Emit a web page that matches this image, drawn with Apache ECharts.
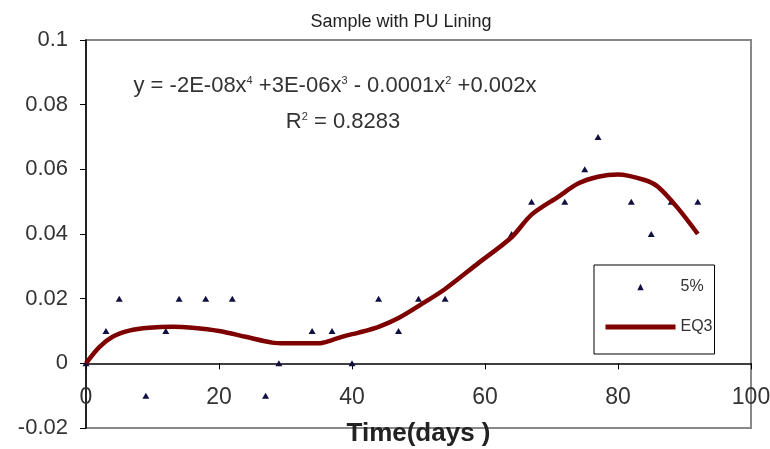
<!DOCTYPE html>
<html>
<head>
<meta charset="utf-8">
<script src="https://cdn.jsdelivr.net/npm/echarts@6/dist/echarts.min.js"></script>
<style>html,body{margin:0;padding:0;background:#fff}#c{width:770px;height:449px}</style>
</head>
<body>
<div id="c"></div>
<script>
// Measured points (5%)
const pointDays   = [0, 3, 5, 9, 12, 14, 18, 22, 27, 29, 34, 37, 40, 44, 47, 50, 54, 64, 67, 72, 75, 77, 82, 85, 88, 92];
const pointValues = [0, 0.01, 0.02, -0.01, 0.01, 0.02, 0.02, 0.02, -0.01, 0, 0.01, 0.01, 0, 0.02, 0.01, 0.02, 0.02, 0.04, 0.05, 0.05, 0.06, 0.07, 0.05, 0.04, 0.05, 0.05];
// Trend curve (EQ3)
const trendDays   = [0, 2, 4, 6.5, 9.5, 13, 16, 20, 24, 28, 30, 35, 37, 39, 41, 44, 47, 51, 54, 59, 64, 67, 71, 74, 77, 80, 84, 86, 89, 92];
const trendValues = [0, 0.005, 0.0082, 0.0101, 0.011, 0.0113, 0.011, 0.0100, 0.0082, 0.0064, 0.0062, 0.0062, 0.0072, 0.0085, 0.0095, 0.0113, 0.014, 0.019, 0.023, 0.031, 0.039, 0.046, 0.0515, 0.0556, 0.0577, 0.0584, 0.0567, 0.0546, 0.048, 0.040];
const seriesNames = ['5%', 'EQ3'];
const chartTitle = 'Sample with PU Lining';
const xAxisName = 'Time(days )';

const FONT = "'Liberation Sans', Arial, sans-serif";
const chart = echarts.init(document.getElementById('c'));
chart.setOption({
  animation: false,
  backgroundColor: '#fff',
  grid: { left: 86, right: 19, top: 40, bottom: 21, show: true, borderColor: '#888', borderWidth: 2, containLabel: false, outerBoundsMode: 'none' },
  xAxis: {
    type: 'value', min: 0, max: 100, interval: 20,
    name: xAxisName, nameLocation: 'middle', nameGap: -7,
    nameTextStyle: { fontFamily: FONT, fontSize: 26, fontWeight: 'bold', color: '#222' },
    axisLine: { onZero: true, lineStyle: { color: '#000', width: 1.5 } },
    axisTick: { show: true, inside: false, length: 6, lineStyle: { color: '#000' } },
    axisLabel: { fontFamily: FONT, fontSize: 23, color: '#333', inside: true, margin: 19 },
    splitLine: { show: false }
  },
  yAxis: {
    type: 'value', min: -0.02, max: 0.1, interval: 0.02,
    axisLine: { show: true, lineStyle: { color: '#000', width: 1.5 } },
    axisTick: { show: true, inside: false, length: 6, lineStyle: { color: '#000' } },
    axisLabel: { fontFamily: FONT, fontSize: 22, color: '#333', margin: 18 },
    splitLine: { show: false }
  },
  legend: {
    orient: 'vertical', left: 594, top: 265,
    padding: [13, 2, 18, 9], itemGap: 22,
    itemWidth: 70, itemHeight: 8,
    borderColor: '#000', borderWidth: 1, backgroundColor: '#fff',
    textStyle: { fontFamily: FONT, fontSize: 16, color: '#333', lineHeight: 18 },
    data: [
      { name: seriesNames[0] },
      { name: seriesNames[1], itemStyle: { opacity: 0 }, lineStyle: { width: 5, color: '#7f0000' } }
    ]
  },
  graphic: [
    { type: 'text', x: 401, y: 22, style: { text: chartTitle, font: "18px 'Liberation Sans', Arial", fill: '#222', align: 'center', verticalAlign: 'middle' } },
    { type: 'text', x: 335, y: 86, style: {
        text: '{m|y = -2E-08x}{s|4}{m| +3E-06x}{s|3}{m| - 0.0001x}{s|2}{m| +0.002x}',
        align: 'center', verticalAlign: 'middle',
        rich: {
          m: { fontFamily: FONT, fontSize: 22, fill: '#333' },
          s: { fontFamily: FONT, fontSize: 11, fill: '#333', padding: [0, 0, 10, 0] }
        } } },
    { type: 'text', x: 343, y: 122, style: {
        text: '{m|R}{s|2}{m| = 0.8283}',
        align: 'center', verticalAlign: 'middle',
        rich: {
          m: { fontFamily: FONT, fontSize: 22, fill: '#333' },
          s: { fontFamily: FONT, fontSize: 11, fill: '#333', padding: [0, 0, 10, 0] }
        } } }
  ],
  series: [
    {
      name: seriesNames[0], type: 'line',
      data: pointDays.map((d, i) => [d, pointValues[i]]),
      symbol: 'triangle', symbolSize: [7, 6], showSymbol: true, showAllSymbol: true,
      lineStyle: { width: 0 },
      itemStyle: { color: '#101040' },
      z: 2
    },
    {
      name: seriesNames[1], type: 'line',
      data: trendDays.map((d, i) => [d, trendValues[i]]),
      smooth: 0.3, symbol: 'none',
      lineStyle: { color: '#7f0000', width: 4.5 },
      itemStyle: { color: '#7f0000' },
      z: 3
    }
  ]
});
</script>
</body>
</html>
